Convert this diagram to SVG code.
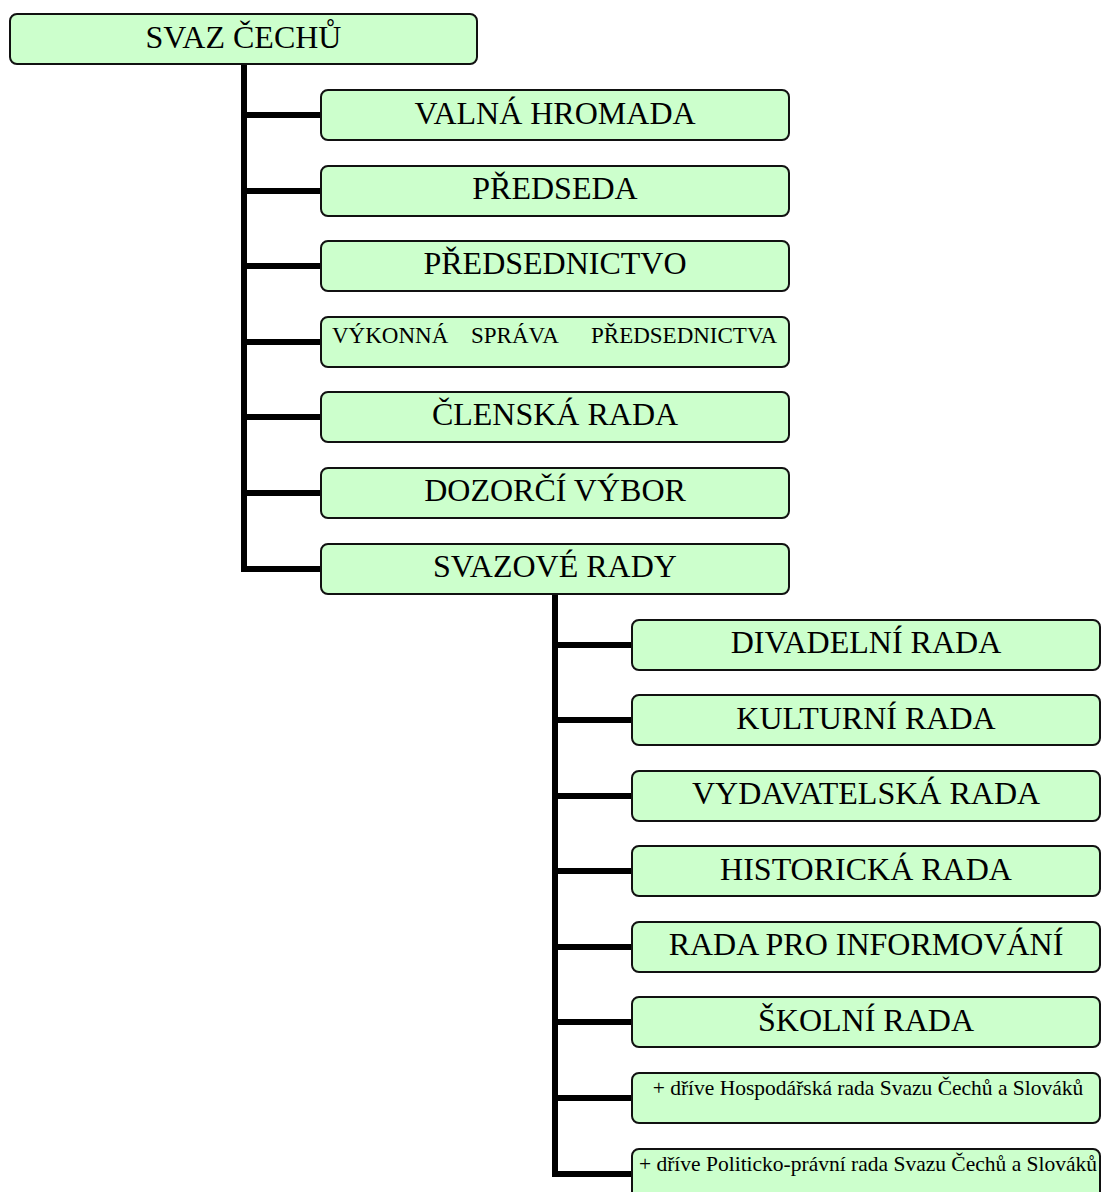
<svg xmlns="http://www.w3.org/2000/svg" width="1102" height="1192" viewBox="0 0 1102 1192">
<style>
.box{fill:#CCFFCC;stroke:#111;stroke-width:2}
.t{font-family:"Liberation Serif","Times New Roman",serif;font-size:32px;fill:#000;text-anchor:middle}
.s{font-family:"Liberation Serif","Times New Roman",serif;font-size:23px;fill:#000}
.n{font-family:"Liberation Serif","Times New Roman",serif;font-size:21.5px;fill:#000;text-anchor:middle}
.c{fill:none;stroke:#000;stroke-width:6;stroke-linejoin:miter}
</style>
<rect width="1102" height="1192" fill="#fff"/>
<g id="connectors">
<path class="c" d="M244 64 V569 H321"/>
<path class="c" d="M244 115 H321 M244 191 H321 M244 266 H321 M244 342 H321 M244 417 H321 M244 493 H321"/>
<path class="c" d="M555 594 V1174 H632"/>
<path class="c" d="M555 645 H632 M555 720 H632 M555 796 H632 M555 871 H632 M555 947 H632 M555 1022 H632 M555 1098 H632"/>
</g>
<g id="n0"><rect class="box" x="10" y="14" width="467" height="50" rx="7"/><text class="t" x="243.5" y="48">SVAZ ČECHŮ</text></g>
<g id="n1"><rect class="box" x="321" y="90" width="468" height="50" rx="7"/><text class="t" x="555" y="124">VALNÁ HROMADA</text></g>
<g id="n2"><rect class="box" x="321" y="166" width="468" height="50" rx="7"/><text class="t" x="555" y="199">PŘEDSEDA</text></g>
<g id="n3"><rect class="box" x="321" y="241" width="468" height="50" rx="7"/><text class="t" x="555" y="274">PŘEDSEDNICTVO</text></g>
<g id="n4"><rect class="box" x="321" y="317" width="468" height="50" rx="7"/><text class="s" y="343"><tspan x="332">VÝKONNÁ</tspan><tspan x="471">SPRÁVA</tspan><tspan x="591">PŘEDSEDNICTVA</tspan></text></g>
<g id="n5"><rect class="box" x="321" y="392" width="468" height="50" rx="7"/><text class="t" x="555" y="425">ČLENSKÁ RADA</text></g>
<g id="n6"><rect class="box" x="321" y="468" width="468" height="50" rx="7"/><text class="t" x="555" y="501">DOZORČÍ VÝBOR</text></g>
<g id="n7"><rect class="box" x="321" y="544" width="468" height="50" rx="7"/><text class="t" x="555" y="577">SVAZOVÉ RADY</text></g>
<g id="n8"><rect class="box" x="632" y="620" width="468" height="50" rx="7"/><text class="t" x="866" y="653">DIVADELNÍ RADA</text></g>
<g id="n9"><rect class="box" x="632" y="695" width="468" height="50" rx="7"/><text class="t" x="866" y="729">KULTURNÍ RADA</text></g>
<g id="n10"><rect class="box" x="632" y="771" width="468" height="50" rx="7"/><text class="t" x="866" y="804">VYDAVATELSKÁ RADA</text></g>
<g id="n11"><rect class="box" x="632" y="846" width="468" height="50" rx="7"/><text class="t" x="866" y="880">HISTORICKÁ RADA</text></g>
<g id="n12"><rect class="box" x="632" y="922" width="468" height="50" rx="7"/><text class="t" x="866" y="955">RADA PRO INFORMOVÁNÍ</text></g>
<g id="n13"><rect class="box" x="632" y="997" width="468" height="50" rx="7"/><text class="t" x="866" y="1031">ŠKOLNÍ RADA</text></g>
<g id="n14"><rect class="box" x="632" y="1073" width="468" height="50" rx="7"/><text class="n" x="868" y="1095">+ dříve Hospodářská rada Svazu Čechů a Slováků</text></g>
<g id="n15"><rect class="box" x="632" y="1149" width="468" height="50" rx="7"/><text class="n" x="868" y="1171">+ dříve Politicko-právní rada Svazu Čechů a Slováků</text></g>
</svg>
